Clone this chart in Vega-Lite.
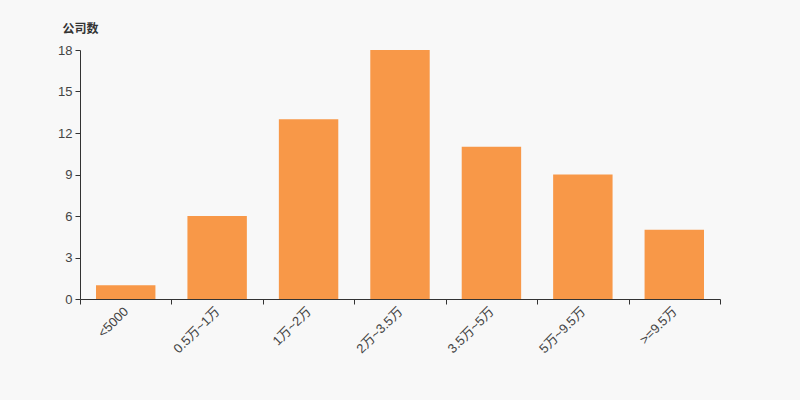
{
  "$schema": "https://vega.github.io/schema/vega-lite/v6.json",
  "width": 640,
  "height": 249,
  "autosize": {"type": "none"},
  "padding": {"left": 80, "top": 50, "right": 80, "bottom": 101},
  "background": "#f8f8f8",
  "config": {"view": {"stroke": null}, "font": "Liberation Sans, Noto Sans CJK SC, sans-serif"},
  "data": {"values": [
    {"range": "<5000", "count": 1},
    {"range": "0.5万~1万", "count": 6},
    {"range": "1万~2万", "count": 13},
    {"range": "2万~3.5万", "count": 18},
    {"range": "3.5万~5万", "count": 11},
    {"range": "5万~9.5万", "count": 9},
    {"range": ">=9.5万", "count": 5}
  ]},
  "mark": {"type": "bar", "color": "#f89848", "width": {"band": 0.65}},
  "encoding": {
    "x": {
      "field": "range", "type": "nominal", "sort": null,
      "scale": {"paddingInner": 0, "paddingOuter": 0},
      "axis": {
        "title": null, "labelAngle": -45, "labelAlign": "right", "labelBaseline": "middle",
        "tickBand": "extent", "domainColor": "#333", "tickColor": "#333", "tickSize": 5,
        "labelColor": "#444", "labelFontSize": 13, "labelPadding": 5, "grid": false
      }
    },
    "y": {
      "field": "count", "type": "quantitative",
      "scale": {"domain": [0, 18]},
      "axis": {
        "values": [0, 3, 6, 9, 12, 15, 18], "grid": false,
        "domainColor": "#333", "tickColor": "#333", "tickSize": 5,
        "labelColor": "#444", "labelFontSize": 13, "labelPadding": 3,
        "title": "公司数", "titleAngle": 0, "titleAlign": "left", "titleBaseline": "middle",
        "titleX": -18, "titleY": -22, "titleFontSize": 12, "titleFontWeight": "bold", "titleColor": "#333"
      }
    }
  }
}
